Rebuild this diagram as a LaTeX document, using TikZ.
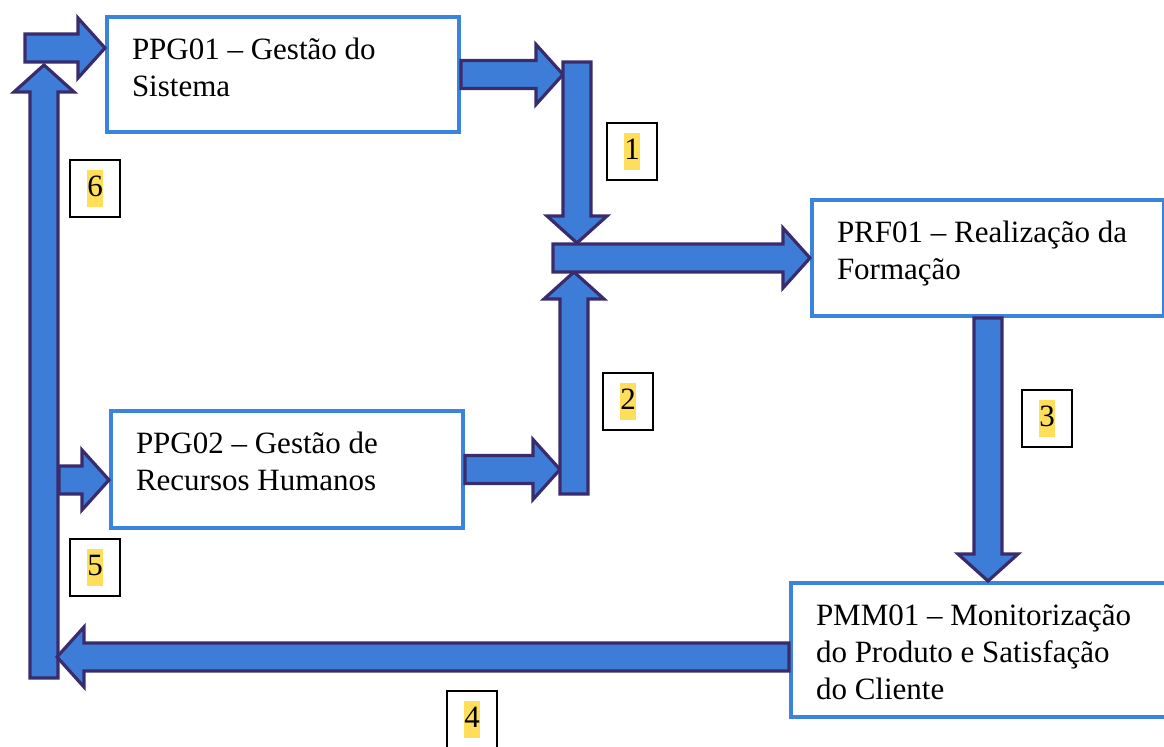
\documentclass[tikz,border=0pt]{standalone}
\usepackage{fontspec}
\setmainfont{Liberation Serif}
\usepackage{xcolor}
\usepackage{tikz}
\usetikzlibrary{calc,positioning}
\definecolor{arrowblue}{RGB}{61,125,216}
\definecolor{arrowedge}{RGB}{58,44,108}
\definecolor{boxblue}{RGB}{58,132,222}
\definecolor{markyellow}{RGB}{255,222,90}

% highlighted step number
\newcommand{\hlnum}[1]{{\setlength{\fboxsep}{0pt}\colorbox{markyellow}{\strut#1}}}
% thick block arrow from #1 to tip #2
\newcommand{\bigarrow}[2]{%
  \coordinate (hb) at ($(#2)!13.5pt!(#1)$);
  \filldraw[arrowbody] ($(#1)!7pt!90:(#2)$) -- ($(hb)!7pt!90:(#2)$) -- ($(hb)!15pt!90:(#2)$) -- (#2)
    -- ($(hb)!15pt!-90:(#2)$) -- ($(hb)!7pt!-90:(#2)$) -- ($(#1)!7pt!-90:(#2)$) -- cycle;}

\begin{document}
\begin{tikzpicture}[x=0.5pt,y=-0.5pt,
    procbox/.style={draw=boxblue,line width=2pt,fill=white,anchor=north west,align=flush left,
      text width=151pt,inner xsep=12.5pt,inner ysep=4pt,text height=17.5pt,
      font=\fontsize{15.5}{18.5}\selectfont},
    numbox/.style={draw=black,line width=1pt,fill=white,minimum width=25pt,
      minimum height=28.5pt,inner sep=0pt,font=\fontsize{15.5}{18.5}\selectfont},
    arrowbody/.style={fill=arrowblue,draw=arrowedge,line width=1.6pt}]
    \useasboundingbox (0,0) rectangle (1164,747);
    \clip (0,0) rectangle (1164,747);

    % Processes
    \node[procbox,text depth=32pt] (ppg01) at (105,15) {PPG01 – Gestão do\\Sistema};
    \node[procbox,text depth=33pt] (ppg02) at (109,409) {PPG02 – Gestão de\\Recursos Humanos};
    \node[procbox,text depth=32.5pt] (prf01) at (810,198) {PRF01 – Realização da\\Formação};
    \node[procbox,text depth=41.5pt,text width=170pt] (pmm01) at (789,581)
        {PMM01 – Monitorização\\do Produto e Satisfação\\do Cliente};

    % Step numbers
    \node[numbox] (n1) at (632,152) {\hlnum{1}};
    \node[numbox] (n2) at (628,402) {\hlnum{2}};
    \node[numbox] (n3) at (1047,419) {\hlnum{3}};
    \node[numbox] (n4) at (472,720) {\hlnum{4}};
    \node[numbox] (n5) at (95,568) {\hlnum{5}};
    \node[numbox] (n6) at (95,189) {\hlnum{6}};

    % Feedback bar on the left
    \coordinate (lbot) at (44,678);
    \coordinate (ltop) at (44,65);
    \bigarrow{lbot}{ltop}
    \coordinate (ltopin) at (25,48);
    \coordinate (ltopout) at (ltopin -| ppg01.west);
    \bigarrow{ltopin}{ltopout}
    \coordinate (lmid) at (59,480);
    \coordinate (lmidout) at (lmid -| ppg02.west);
    \bigarrow{lmid}{lmidout}

    % Inputs to the junction
    \coordinate (j1in) at (ppg01.east -| 563,0);
    \bigarrow{ppg01.east}{j1in}
    \coordinate (v1top) at (577,62);
    \coordinate (v1tip) at (577,243);
    \bigarrow{v1top}{v1tip}
    \coordinate (j2in) at (ppg02.east -| 560,0);
    \bigarrow{ppg02.east}{j2in}
    \coordinate (v2bot) at (574,494);
    \coordinate (v2tip) at (574,272);
    \bigarrow{v2bot}{v2tip}

    % Junction to PRF01, then down and back
    \coordinate (jleft) at (prf01.west -| 553,0);
    \bigarrow{jleft}{prf01.west}
    \coordinate (p3tip) at (prf01.south |- pmm01.north);
    \bigarrow{prf01.south}{p3tip}
    \coordinate (l4tip) at (57,657);
    \coordinate (l4start) at (pmm01.west |- l4tip);
    \bigarrow{l4start}{l4tip}
\end{tikzpicture}
\end{document}
